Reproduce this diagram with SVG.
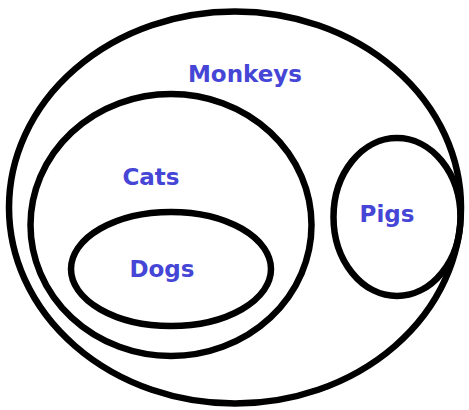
<svg xmlns="http://www.w3.org/2000/svg" width="469" height="410" viewBox="0 0 469 410">
<style>
.set{fill:none;stroke:#000;stroke-width:6.5}
.lbl{font-family:"Comic Sans MS","DejaVu Sans",sans-serif;font-weight:bold;font-size:23px;fill:#4545d6;text-anchor:middle}
</style>
<rect width="469" height="410" fill="#fff"/>
<g id="monkeys">
<ellipse class="set" cx="235" cy="207.5" rx="226" ry="196"/>
<text class="lbl" x="245" y="82">Monkeys</text>
</g>
<g id="cats">
<ellipse class="set" cx="171" cy="225" rx="140.5" ry="131"/>
<text class="lbl" x="151" y="185">Cats</text>
</g>
<g id="dogs">
<ellipse class="set" cx="171" cy="269" rx="100" ry="57"/>
<text class="lbl" x="162" y="277">Dogs</text>
</g>
<g id="pigs">
<ellipse class="set" cx="397" cy="217" rx="63.5" ry="79"/>
<text class="lbl" x="387" y="222">Pigs</text>
</g>
<g id="connectors"/>
</svg>
